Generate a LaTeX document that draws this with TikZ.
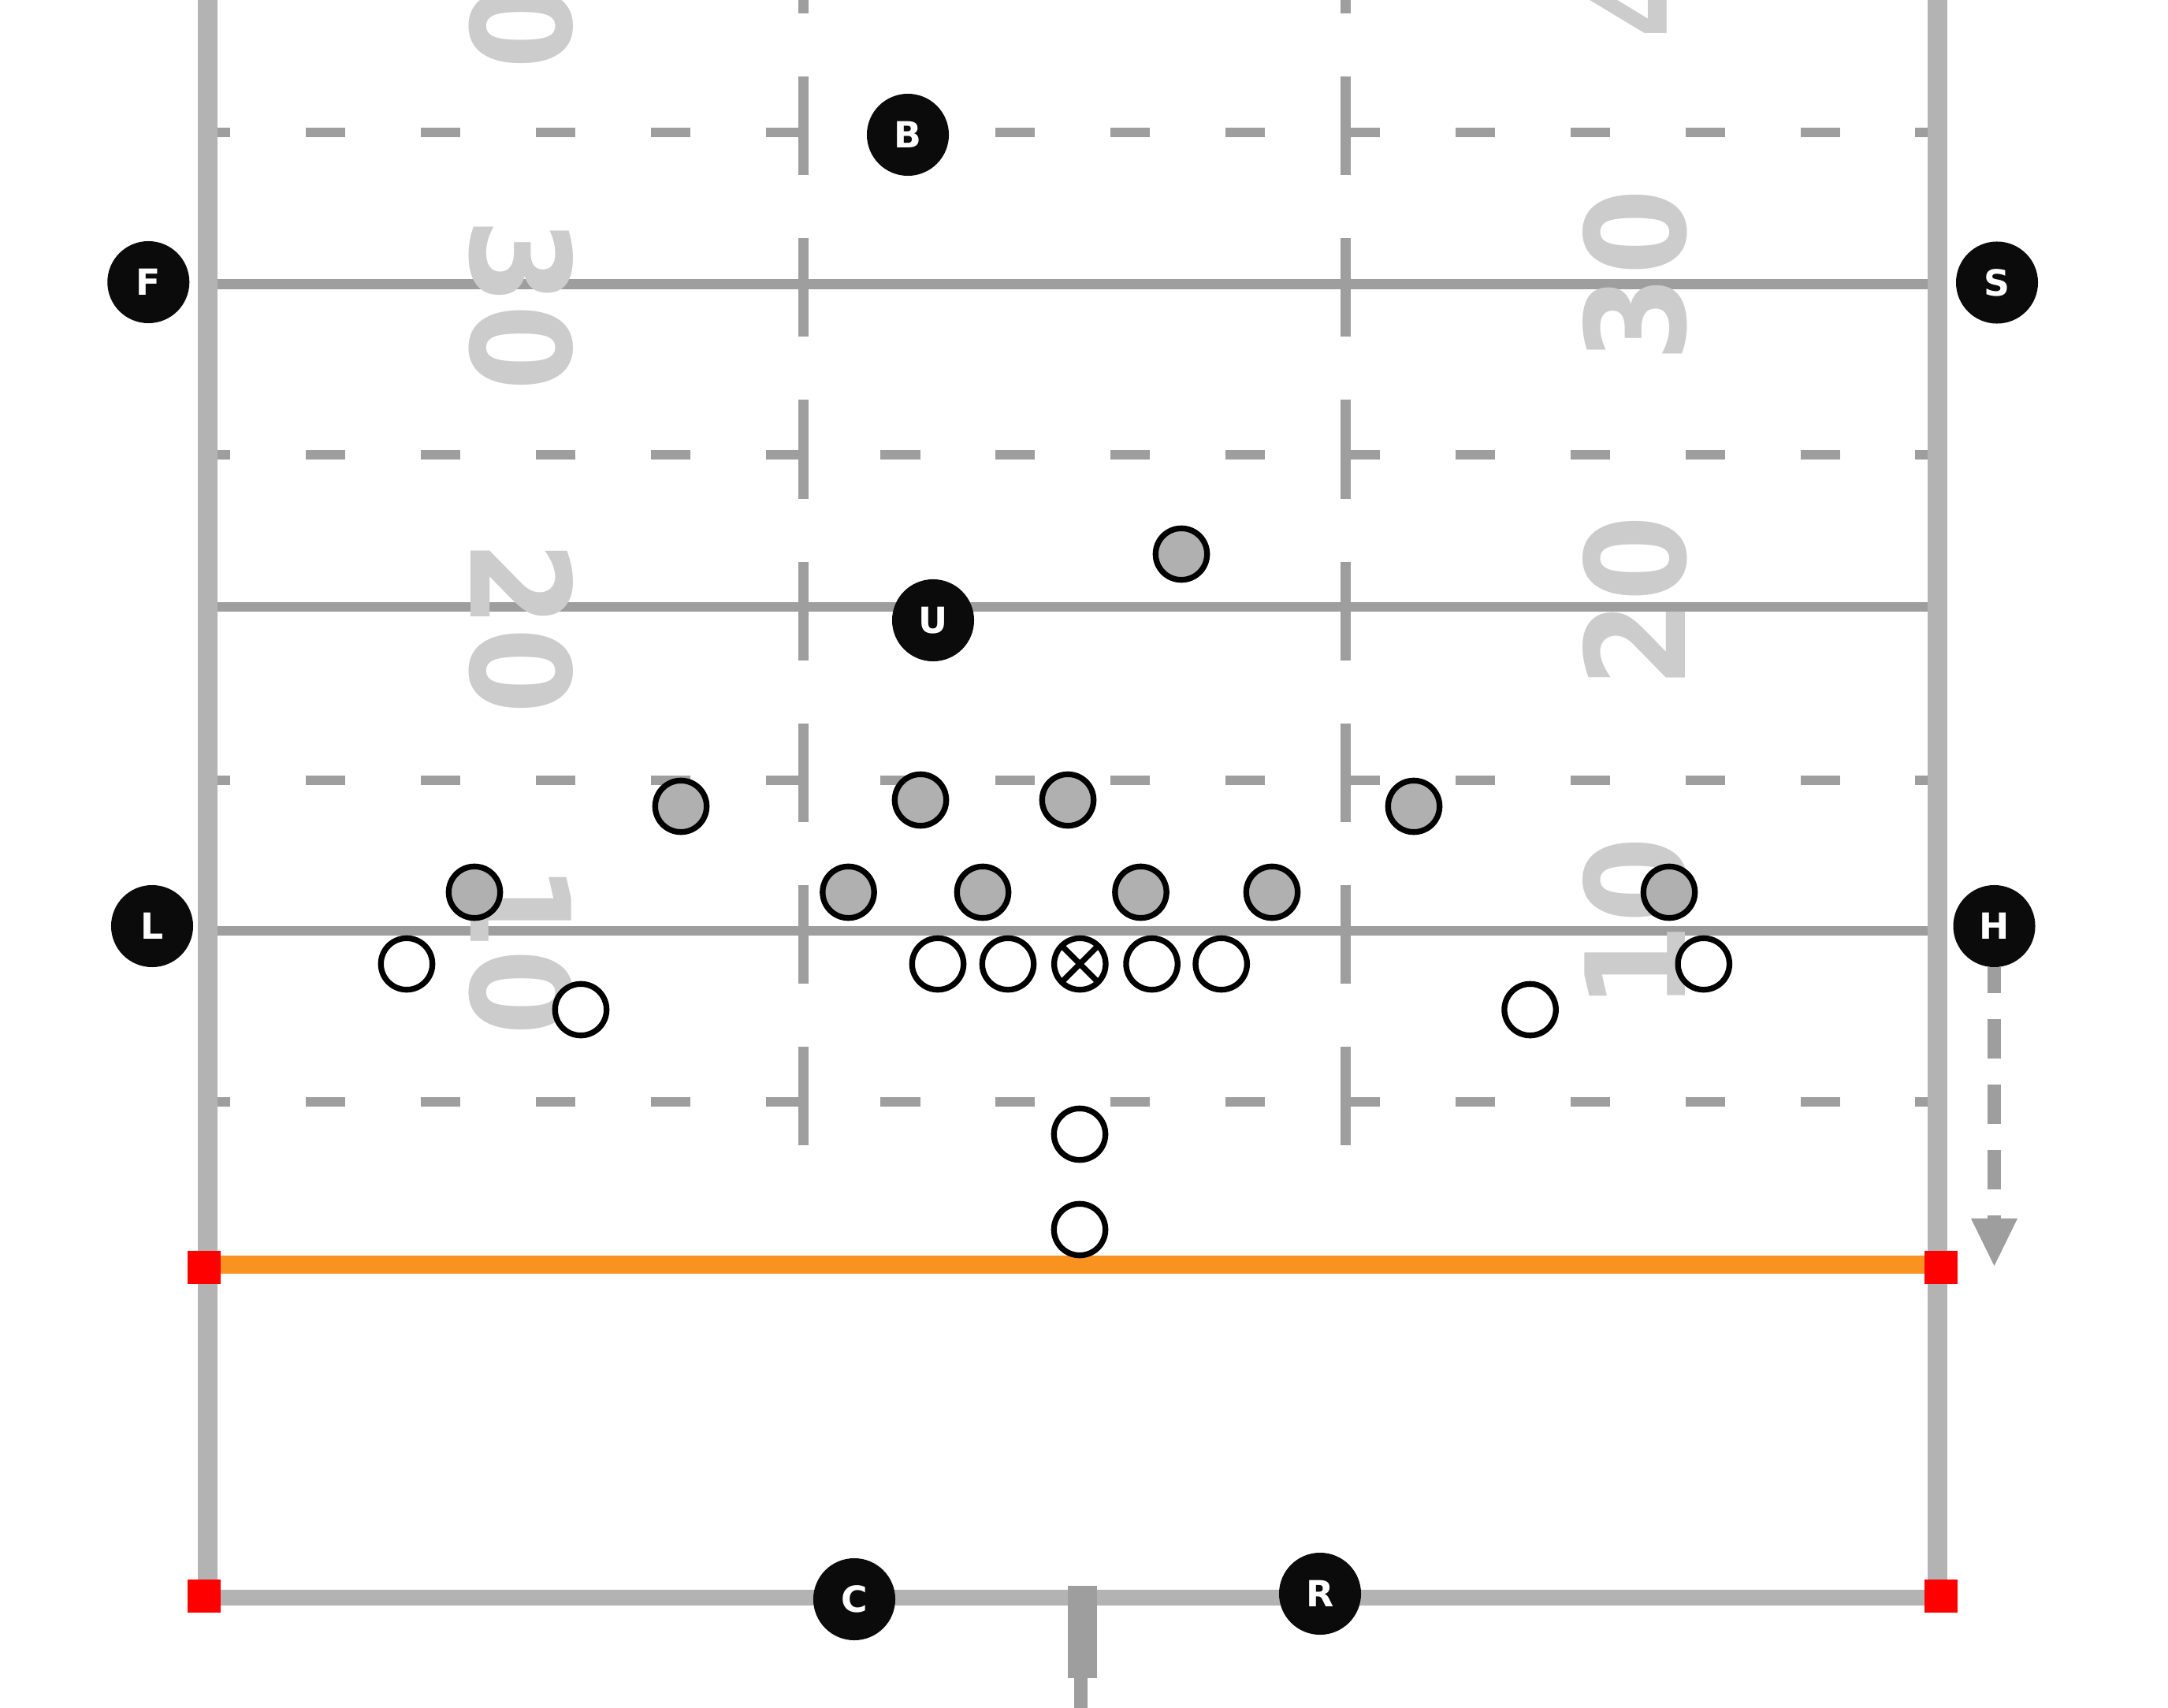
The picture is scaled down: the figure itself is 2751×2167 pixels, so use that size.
\documentclass[tikz,border=0pt]{standalone}
\usepackage{fontspec}
\usetikzlibrary{arrows.meta}
\newfontfamily\numfont{DejaVu Sans}
\newfontfamily\offfont{DejaVu Sans}
\definecolor{sidegray}{HTML}{B3B3B3}
\definecolor{linegray}{HTML}{9E9E9E}
\definecolor{numgray}{HTML}{CCCCCC}
\definecolor{plgray}{HTML}{B0B0B0}
\definecolor{fieldorange}{HTML}{F7931E}
\definecolor{offblack}{HTML}{0B0B0B}
\begin{document}
\begin{tikzpicture}[x=0.01cm,y=-0.01cm,
  sideline/.style={draw=sidegray, line width=0.25cm},
  endline/.style={draw=sidegray, line width=0.207cm},
  yardline/.style={draw=linegray, line width=0.12cm},
  dashline/.style={draw=linegray, line width=0.12cm, dash pattern=on 0.5cm off 0.958cm, dash phase=0.338cm},
  hashmark/.style={draw=linegray, line width=0.127cm},
  scrimmage/.style={draw=fieldorange, line width=0.23cm},
  yardnum/.style={text=numgray, inner sep=0pt, font=\numfont\bfseries\fontsize{49.8}{60}\selectfont},
  defender/.style={circle, draw=black, fill=plgray, line width=0.073cm, minimum size=0.653cm, inner sep=0pt, outer sep=0pt},
  attacker/.style={circle, draw=black, fill=white, line width=0.073cm, minimum size=0.653cm, inner sep=0pt, outer sep=0pt},
  official/.style={circle, fill=offblack, minimum size=1.04cm, inner sep=0pt, outer sep=0pt, text=white, font=\offfont\bfseries\fontsize{13}{15}\selectfont},
  corner/.style={fill=red, minimum size=0.42cm, inner sep=0pt},
  postpart/.style={fill=linegray}
]
\useasboundingbox (0,0) rectangle (2751,2167);
\clip (0,0) rectangle (2751,2167);
\fill[white] (0,0) rectangle (2751,2167);

% yard lines
\foreach \y in {360.5,769.6,1181} \draw[yardline] (263.3,\y) -- (2458.5,\y);
\foreach \y in {168.4,577.3,989.8,1398.2} \draw[dashline] (276,\y) -- (2446,\y);
% hash marks
\foreach \k in {-1,...,6} {
  \draw[hashmark] (1019.7,{160+205*\k-62.5}) -- (1019.7,{160+205*\k+62.5});
  \draw[hashmark] (1707.3,{160+205*\k-62.5}) -- (1707.3,{160+205*\k+62.5});
}

% yard numbers
\node[yardnum, rotate=-90] (l40) at (661.7,-22) {\scalebox{0.9}[1]{40}};
\node[yardnum, rotate=-90] (l30) at (661.7,386.8) {\scalebox{0.9}[1]{30}};
\node[yardnum, rotate=-90] (l20) at (661.7,796) {\scalebox{0.9}[1]{20}};
\node[yardnum, rotate=-90] (l10) at (661.7,1204.7) {\scalebox{0.9}[1]{10}};
\node[yardnum, rotate=90] (r40) at (2074.7,-60) {\scalebox{0.9}[1]{40}};
\node[yardnum, rotate=90] (r30) at (2074.7,350) {\scalebox{0.9}[1]{30}};
\node[yardnum, rotate=90] (r20) at (2074.7,763.3) {\scalebox{0.9}[1]{20}};
\node[yardnum, rotate=90] (r10) at (2074.7,1171.5) {\scalebox{0.9}[1]{10}};

% sidelines, end line, line of scrimmage
\draw[sideline] (263.3,-10) -- (263.3,2027);
\draw[sideline] (2458.5,-10) -- (2458.5,2027);
\draw[endline] (263.3,2027) -- (2458.5,2027);
\draw[scrimmage] (263.3,1604) -- (2458.5,1604);

% goal post
\fill[postpart] (1355,2012.3) rectangle (1392.3,2129);
\fill[postpart] (1363.3,2129) rectangle (1380.3,2175);

% corner markers
\node[corner] (pyl1) at (259.4,1608) {};
\node[corner] (pyl2) at (2463,1608) {};
\node[corner] (pyl3) at (259.4,2025) {};
\node[corner] (pyl4) at (2463,2025) {};

% defense
\node[defender] (d1) at (1499,703) {};
\node[defender] (d2) at (864,1023) {};
\node[defender] (d3) at (1168,1015) {};
\node[defender] (d4) at (1355,1015) {};
\node[defender] (d5) at (1794,1023) {};
\node[defender] (d6) at (602,1132) {};
\node[defender] (d7) at (1076.5,1132) {};
\node[defender] (d8) at (1247,1132) {};
\node[defender] (d9) at (1447.5,1132) {};
\node[defender] (d10) at (1614,1132) {};
\node[defender] (d11) at (2118,1132) {};

% offense
\node[attacker] (o1) at (516,1223) {};
\node[attacker] (o2) at (737,1281) {};
\node[attacker] (o3) at (1190,1223) {};
\node[attacker] (o4) at (1279,1223) {};
\node[attacker] (ball) at (1370.3,1223) {};
\draw[line width=0.073cm] (ball.north west) -- (ball.south east) (ball.north east) -- (ball.south west);
\node[attacker] (o5) at (1461.6,1223) {};
\node[attacker] (o6) at (1549.7,1223) {};
\node[attacker] (o7) at (1941.6,1281) {};
\node[attacker] (o8) at (2161.8,1223) {};
\node[attacker] (o9) at (1370,1439) {};
\node[attacker] (o10) at (1370,1560) {};

% officials
\node[official] (B) at (1152,171) {B};
\node[official] (F) at (188.3,358) {F};
\node[official] (S) at (2534,358.5) {S};
\node[official] (U) at (1184,787) {U};
\node[official] (L) at (193,1175) {L};
\node[official] (H) at (2530.5,1175) {H};
\node[official] (C) at (1084,2029) {C};
\node[official] (R) at (1675,2022) {R};

% head linesman movement
\coordinate (Hend) at (2530.5,1606);
\draw[draw=linegray, line width=0.163cm, dash pattern=on 0.5cm off 0.33cm, dash phase=0.17cm,
  -{Triangle[width=0.59cm,length=0.6cm,line width=0pt]}] (H.south) -- (Hend);
\end{tikzpicture}
\end{document}
